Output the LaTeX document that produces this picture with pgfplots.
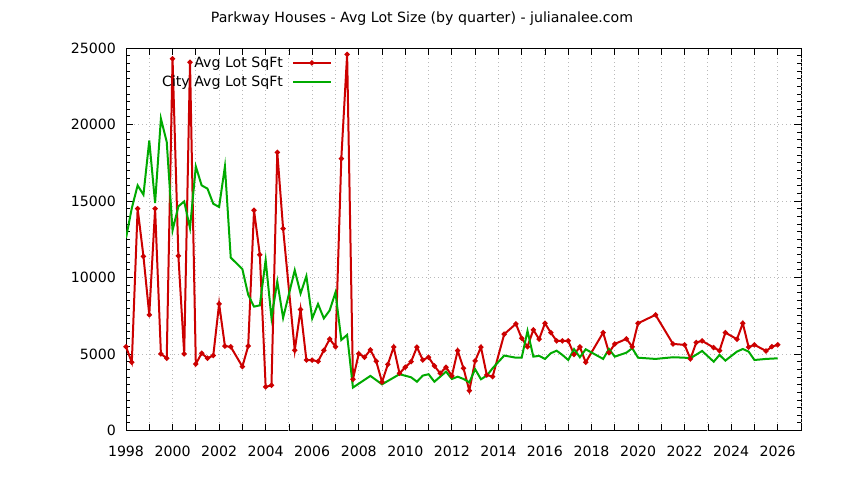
\documentclass[border=0pt]{standalone}
\usepackage{pgfplots}
\pgfplotsset{compat=1.18}
\usepackage{pgfplotstable}
\usepackage{fontspec}
\setmainfont{DejaVu Sans}
\definecolor{LotRed}{HTML}{CC0000}
\definecolor{CityGreen}{HTML}{00AA00}

\pgfplotstableread{
year lot
1998.00 5480
1998.25 4460
1998.50 14500
1998.75 11380
1999.00 7560
1999.25 14500
1999.50 5010
1999.75 4730
2000.00 24300
2000.25 11420
2000.50 5010
2000.75 24070
2001.00 4350
2001.25 5050
2001.50 4730
2001.75 4900
2002.00 8280
2002.25 5520
2002.50 5470
2003.00 4180
2003.25 5520
2003.50 14390
2003.75 11490
2004.00 2850
2004.25 2960
2004.50 18180
2004.75 13190
2005.25 5250
2005.50 7910
2005.75 4610
2006.00 4600
2006.25 4520
2006.50 5240
2006.75 5980
2007.00 5480
2007.25 17770
2007.50 24580
2007.75 3350
2008.00 5020
2008.25 4790
2008.50 5270
2008.75 4530
2009.00 3170
2009.25 4320
2009.50 5460
2009.75 3740
2010.00 4140
2010.25 4500
2010.50 5450
2010.75 4610
2011.00 4790
2011.25 4220
2011.50 3740
2011.75 4140
2012.00 3570
2012.25 5220
2012.50 4070
2012.75 2610
2013.00 4550
2013.25 5450
2013.50 3630
2013.75 3520
2014.25 6300
2014.75 6970
2015.00 6030
2015.25 5480
2015.50 6580
2015.75 5970
2016.00 7010
2016.25 6400
2016.50 5860
2016.75 5860
2017.00 5860
2017.25 4970
2017.50 5460
2017.75 4460
2018.50 6400
2018.75 5090
2019.00 5660
2019.50 5990
2019.75 5480
2020.00 7010
2020.75 7560
2021.50 5660
2022.00 5600
2022.25 4680
2022.50 5750
2022.75 5860
2023.25 5420
2023.50 5220
2023.75 6400
2024.25 5970
2024.50 7010
2024.75 5450
2025.00 5600
2025.50 5200
2025.75 5480
2026.00 5600
}\lotdata

\pgfplotstableread{
year lot
1998.00 12580
1998.25 14540
1998.50 16020
1998.75 15410
1999.00 18950
1999.25 14870
1999.50 20390
1999.75 18860
2000.00 13080
2000.25 14650
2000.50 14970
2000.75 13230
2001.00 17260
2001.25 16020
2001.50 15810
2001.75 14820
2002.00 14610
2002.25 17260
2002.50 11300
2003.00 10550
2003.25 8870
2003.50 8100
2003.75 8180
2004.00 11140
2004.25 7360
2004.50 9740
2004.75 7360
2005.25 10480
2005.50 8960
2005.75 10090
2006.00 7320
2006.25 8270
2006.50 7330
2006.75 7850
2007.00 9030
2007.25 5920
2007.50 6250
2007.75 2810
2008.50 3570
2009.00 3020
2009.75 3680
2010.25 3480
2010.50 3190
2010.75 3590
2011.00 3680
2011.25 3190
2011.50 3520
2011.75 3850
2012.00 3370
2012.25 3520
2012.50 3370
2012.75 3150
2013.00 4010
2013.25 3350
2013.50 3590
2013.75 4070
2014.25 4900
2014.75 4760
2015.00 4760
2015.25 6510
2015.50 4830
2015.75 4880
2016.00 4680
2016.25 5050
2016.50 5220
2016.75 4940
2017.00 4610
2017.25 5320
2017.50 4790
2017.75 5310
2018.50 4680
2018.75 5330
2019.00 4830
2019.50 5090
2019.75 5380
2020.00 4760
2020.75 4680
2021.50 4790
2022.00 4760
2022.25 4720
2022.75 5200
2023.25 4500
2023.50 4940
2023.75 4570
2024.25 5160
2024.50 5330
2024.75 5160
2025.00 4610
2025.50 4680
2026.00 4720
}\citydata

\begin{document}
\begin{tikzpicture}[font=\fontsize{10.6}{12.5}\selectfont]
  % page = 844 x 480 px, 1 px = 0.75pt
  \path[use as bounding box] (0,0) rectangle (633pt,360pt);
  \node at (316.5pt,345.75pt) {Parkway Houses - Avg Lot Size (by quarter) - julianalee.com};
  \begin{axis}[
      at={(94.5pt,37.1pt)}, anchor=south west,
      scale only axis, width=506.25pt, height=286.9pt,
      xmin=1998, xmax=2027, ymin=0, ymax=25000,
      xtick={1998,2000,...,2026},
      extra x ticks={1999,2001,...,2027},
      extra x tick labels={},
      extra x tick style={grid=major},
      ytick={0,5000,...,25000},
      scaled y ticks=false,
      minor y tick num=9,
      major tick length=5pt, minor tick length=3pt,
      tick align=inside,
      xmajorgrids, ymajorgrids,
      grid style={line width=0.75pt, gray!55, dash pattern=on 0.75pt off 2.25pt},
      axis line style={line width=0.7pt},
      tick style={black, line width=0.6pt},
      /pgf/number format/assume math mode=true,
      /pgf/number format/set thousands separator={},
      xticklabel style={yshift=-8pt},
      yticklabel style={xshift=-4pt},
      legend plot pos=right,
      legend cell align=right,
      legend style={draw=none, fill=none, at={(0.305,0.985)}, anchor=north east,
        row sep=1pt, inner sep=0pt,
        nodes={inner xsep=7pt}},
      legend image code/.code={
        \draw[mark repeat=2,mark phase=2,#1] plot coordinates {(0pt,0pt) (14pt,0pt) (28pt,0pt)};},
    ]
    \addplot[LotRed, line width=1.5pt, mark=*, mark size=1.1pt] table[x=year,y=lot] {\lotdata};
    \addlegendentry{Avg Lot SqFt}
    \addplot[CityGreen, line width=1.5pt] table[x=year,y=lot] {\citydata};
    \addlegendentry{City Avg Lot SqFt}
  \end{axis}
\end{tikzpicture}
\end{document}
